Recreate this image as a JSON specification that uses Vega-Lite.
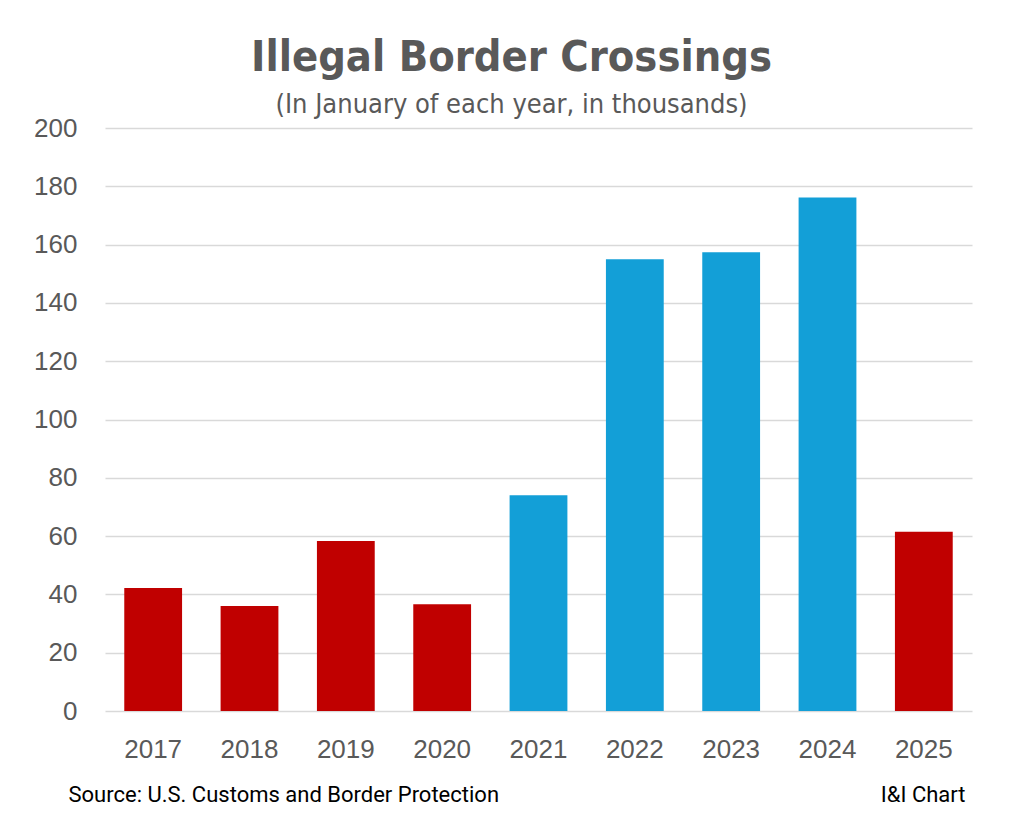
{
  "$schema": "https://vega.github.io/schema/vega-lite/v6.json",
  "autosize": {"type": "none"},
  "width": 867,
  "height": 583,
  "padding": {"left": 105, "top": 128, "right": 52, "bottom": 119},
  "background": "white",
  "title": {
    "text": "Illegal Border Crossings",
    "subtitle": "(In January of each year, in thousands)",
    "anchor": "middle",
    "dx": -27,
    "offset": -3,
    "font": "DejaVu Sans Condensed",
    "fontSize": 43,
    "fontWeight": "bold",
    "color": "#595959",
    "subtitleFont": "DejaVu Sans Condensed",
    "subtitleFontSize": 27,
    "subtitleColor": "#595959",
    "subtitlePadding": 12
  },
  "data": {
    "values": [
      {"year": "2017", "crossings": 42.2, "admin": "Trump"},
      {"year": "2018", "crossings": 36.0, "admin": "Trump"},
      {"year": "2019", "crossings": 58.3, "admin": "Trump"},
      {"year": "2020", "crossings": 36.6, "admin": "Trump"},
      {"year": "2021", "crossings": 74.0, "admin": "Biden"},
      {"year": "2022", "crossings": 155.0, "admin": "Biden"},
      {"year": "2023", "crossings": 157.4, "admin": "Biden"},
      {"year": "2024", "crossings": 176.2, "admin": "Biden"},
      {"year": "2025", "crossings": 61.5, "admin": "Trump"}
    ]
  },
  "mark": {"type": "bar"},
  "encoding": {
    "x": {
      "field": "year",
      "type": "nominal",
      "scale": {"paddingInner": 0.4, "paddingOuter": 0.2},
      "axis": {
        "title": "Source: U.S. Customs and Border Protection",
        "titleFont": "Roboto",
        "titleFontSize": 22,
        "titleFontWeight": "normal",
        "titleColor": "#000000",
        "titleAnchor": "start",
        "titleAlign": "left",
        "titleBaseline": "alphabetic",
        "titleX": -37,
        "titleY": 90,
        "labelAngle": 0,
        "labelFont": "Liberation Sans",
        "labelFontSize": 26,
        "labelColor": "#595959",
        "labelPadding": 25,
        "ticks": false,
        "domain": false
      }
    },
    "y": {
      "field": "crossings",
      "type": "quantitative",
      "scale": {"domain": [0, 200], "nice": false},
      "axis": {
        "values": [0, 20, 40, 60, 80, 100, 120, 140, 160, 180, 200],
        "title": "I&I Chart",
        "titleFont": "Roboto",
        "titleFontSize": 22,
        "titleFontWeight": "normal",
        "titleColor": "#000000",
        "titleAngle": 0,
        "titleAlign": "right",
        "titleBaseline": "alphabetic",
        "titleX": 860,
        "titleY": 673,
        "labelFont": "Liberation Sans",
        "labelFontSize": 26,
        "labelColor": "#595959",
        "labelPadding": 28,
        "ticks": false,
        "domain": false,
        "grid": true,
        "gridColor": "#d9d9d9",
        "gridWidth": 1.3
      }
    },
    "color": {
      "field": "admin",
      "type": "nominal",
      "scale": {"domain": ["Trump", "Biden"], "range": ["#C00000", "#139FD7"]},
      "legend": null
    }
  },
  "config": {"view": {"stroke": null}}
}
